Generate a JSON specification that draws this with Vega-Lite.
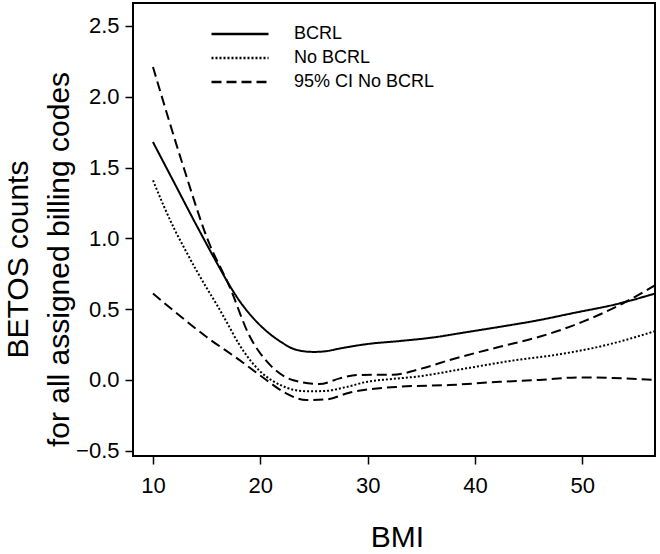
{
  "$schema": "https://vega.github.io/schema/vega-lite/v6.json",
  "width": 522,
  "height": 453,
  "autosize": {"type": "none"},
  "padding": {"left": 133, "top": 3, "right": 5, "bottom": 98},
  "background": "white",
  "config": {
    "font": "Liberation Sans",
    "view": {"stroke": "black", "strokeWidth": 2},
    "axis": {"domain": false, "grid": false, "tickColor": "black", "tickWidth": 1.5, "tickSize": 8, "labelFontSize": 22, "labelColor": "black", "titleFontSize": 30, "titleFontWeight": "normal", "titleColor": "black"}
  },
  "data": {"values": [
    {"curve": "BCRL", "group": "BCRL", "x": 10, "y": 1.68},
    {"curve": "BCRL", "group": "BCRL", "x": 12, "y": 1.39},
    {"curve": "BCRL", "group": "BCRL", "x": 14, "y": 1.10},
    {"curve": "BCRL", "group": "BCRL", "x": 16, "y": 0.82},
    {"curve": "BCRL", "group": "BCRL", "x": 17, "y": 0.685},
    {"curve": "BCRL", "group": "BCRL", "x": 18, "y": 0.565},
    {"curve": "BCRL", "group": "BCRL", "x": 19.3, "y": 0.44},
    {"curve": "BCRL", "group": "BCRL", "x": 20.5, "y": 0.35},
    {"curve": "BCRL", "group": "BCRL", "x": 22, "y": 0.265},
    {"curve": "BCRL", "group": "BCRL", "x": 23, "y": 0.222},
    {"curve": "BCRL", "group": "BCRL", "x": 24, "y": 0.203},
    {"curve": "BCRL", "group": "BCRL", "x": 25, "y": 0.198},
    {"curve": "BCRL", "group": "BCRL", "x": 26, "y": 0.202},
    {"curve": "BCRL", "group": "BCRL", "x": 27.4, "y": 0.222},
    {"curve": "BCRL", "group": "BCRL", "x": 29.9, "y": 0.253},
    {"curve": "BCRL", "group": "BCRL", "x": 33, "y": 0.275},
    {"curve": "BCRL", "group": "BCRL", "x": 36.1, "y": 0.30},
    {"curve": "BCRL", "group": "BCRL", "x": 39, "y": 0.335},
    {"curve": "BCRL", "group": "BCRL", "x": 42.3, "y": 0.375},
    {"curve": "BCRL", "group": "BCRL", "x": 46, "y": 0.423},
    {"curve": "BCRL", "group": "BCRL", "x": 49, "y": 0.47},
    {"curve": "BCRL", "group": "BCRL", "x": 53.45, "y": 0.54},
    {"curve": "BCRL", "group": "BCRL", "x": 56.8, "y": 0.611},

    {"curve": "No BCRL", "group": "No BCRL", "x": 10, "y": 1.41},
    {"curve": "No BCRL", "group": "No BCRL", "x": 11, "y": 1.23},
    {"curve": "No BCRL", "group": "No BCRL", "x": 12, "y": 1.065},
    {"curve": "No BCRL", "group": "No BCRL", "x": 13, "y": 0.92},
    {"curve": "No BCRL", "group": "No BCRL", "x": 14, "y": 0.78},
    {"curve": "No BCRL", "group": "No BCRL", "x": 15, "y": 0.65},
    {"curve": "No BCRL", "group": "No BCRL", "x": 16, "y": 0.525},
    {"curve": "No BCRL", "group": "No BCRL", "x": 17, "y": 0.39},
    {"curve": "No BCRL", "group": "No BCRL", "x": 18, "y": 0.255},
    {"curve": "No BCRL", "group": "No BCRL", "x": 19, "y": 0.145},
    {"curve": "No BCRL", "group": "No BCRL", "x": 20, "y": 0.06},
    {"curve": "No BCRL", "group": "No BCRL", "x": 21, "y": 0.0},
    {"curve": "No BCRL", "group": "No BCRL", "x": 22, "y": -0.04},
    {"curve": "No BCRL", "group": "No BCRL", "x": 23, "y": -0.068},
    {"curve": "No BCRL", "group": "No BCRL", "x": 24.5, "y": -0.08},
    {"curve": "No BCRL", "group": "No BCRL", "x": 26, "y": -0.078},
    {"curve": "No BCRL", "group": "No BCRL", "x": 28, "y": -0.05},
    {"curve": "No BCRL", "group": "No BCRL", "x": 30, "y": -0.012},
    {"curve": "No BCRL", "group": "No BCRL", "x": 32, "y": 0.005},
    {"curve": "No BCRL", "group": "No BCRL", "x": 34.5, "y": 0.023},
    {"curve": "No BCRL", "group": "No BCRL", "x": 39.2, "y": 0.082},
    {"curve": "No BCRL", "group": "No BCRL", "x": 43.8, "y": 0.14},
    {"curve": "No BCRL", "group": "No BCRL", "x": 46.9, "y": 0.17},
    {"curve": "No BCRL", "group": "No BCRL", "x": 52.2, "y": 0.246},
    {"curve": "No BCRL", "group": "No BCRL", "x": 56.8, "y": 0.345},

    {"curve": "CI upper", "group": "95% CI No BCRL", "x": 10, "y": 2.21},
    {"curve": "CI upper", "group": "95% CI No BCRL", "x": 12.79, "y": 1.517},
    {"curve": "CI upper", "group": "95% CI No BCRL", "x": 15.12, "y": 0.987},
    {"curve": "CI upper", "group": "95% CI No BCRL", "x": 17.14, "y": 0.658},
    {"curve": "CI upper", "group": "95% CI No BCRL", "x": 19.0, "y": 0.31},
    {"curve": "CI upper", "group": "95% CI No BCRL", "x": 20.86, "y": 0.11},
    {"curve": "CI upper", "group": "95% CI No BCRL", "x": 23.0, "y": 0.0},
    {"curve": "CI upper", "group": "95% CI No BCRL", "x": 25.5, "y": -0.029},
    {"curve": "CI upper", "group": "95% CI No BCRL", "x": 27.4, "y": 0.011},
    {"curve": "CI upper", "group": "95% CI No BCRL", "x": 29, "y": 0.035},
    {"curve": "CI upper", "group": "95% CI No BCRL", "x": 32.35, "y": 0.037},
    {"curve": "CI upper", "group": "95% CI No BCRL", "x": 35, "y": 0.08},
    {"curve": "CI upper", "group": "95% CI No BCRL", "x": 37.6, "y": 0.14},
    {"curve": "CI upper", "group": "95% CI No BCRL", "x": 42.3, "y": 0.234},
    {"curve": "CI upper", "group": "95% CI No BCRL", "x": 46, "y": 0.305},
    {"curve": "CI upper", "group": "95% CI No BCRL", "x": 50, "y": 0.41},
    {"curve": "CI upper", "group": "95% CI No BCRL", "x": 53.76, "y": 0.54},
    {"curve": "CI upper", "group": "95% CI No BCRL", "x": 56.8, "y": 0.67},

    {"curve": "CI lower", "group": "95% CI No BCRL", "x": 10, "y": 0.61},
    {"curve": "CI lower", "group": "95% CI No BCRL", "x": 11.86, "y": 0.493},
    {"curve": "CI lower", "group": "95% CI No BCRL", "x": 14.97, "y": 0.305},
    {"curve": "CI lower", "group": "95% CI No BCRL", "x": 18.07, "y": 0.14},
    {"curve": "CI lower", "group": "95% CI No BCRL", "x": 20.56, "y": 0.0},
    {"curve": "CI lower", "group": "95% CI No BCRL", "x": 22.4, "y": -0.095},
    {"curve": "CI lower", "group": "95% CI No BCRL", "x": 24.3, "y": -0.142},
    {"curve": "CI lower", "group": "95% CI No BCRL", "x": 26.15, "y": -0.137},
    {"curve": "CI lower", "group": "95% CI No BCRL", "x": 28.3, "y": -0.09},
    {"curve": "CI lower", "group": "95% CI No BCRL", "x": 32.96, "y": -0.048},
    {"curve": "CI lower", "group": "95% CI No BCRL", "x": 37.6, "y": -0.036},
    {"curve": "CI lower", "group": "95% CI No BCRL", "x": 42.3, "y": -0.013},
    {"curve": "CI lower", "group": "95% CI No BCRL", "x": 46, "y": 0.0},
    {"curve": "CI lower", "group": "95% CI No BCRL", "x": 49.7, "y": 0.018},
    {"curve": "CI lower", "group": "95% CI No BCRL", "x": 53.76, "y": 0.011},
    {"curve": "CI lower", "group": "95% CI No BCRL", "x": 56.8, "y": 0.0}
  ]},
  "mark": {"type": "line", "interpolate": "monotone", "clip": true, "color": "black", "strokeWidth": 2},
  "encoding": {
    "x": {"field": "x", "type": "quantitative", "scale": {"domain": [8.14, 56.77], "nice": false, "zero": false},
      "axis": {"values": [10, 20, 30, 40, 50], "title": "BMI", "labelPadding": 11, "titleX": 264, "titleY": 90, "titleBaseline": "alphabetic"}},
    "y": {"field": "y", "type": "quantitative", "scale": {"domain": [-0.537, 2.662], "nice": false, "zero": false},
      "axis": {"values": [-0.5, 0, 0.5, 1, 1.5, 2, 2.5], "format": ".1f", "labelPadding": 6,
        "title": ["BETOS counts", "for all assigned billing codes"], "titleLineHeight": 41, "titleBaseline": "middle", "titleX": -115, "titleY": 256}},
    "detail": {"field": "curve"},
    "strokeDash": {"field": "group", "type": "nominal",
      "scale": {"domain": ["BCRL", "No BCRL", "95% CI No BCRL"], "range": [[1, 0], [2, 2], [10, 5]]},
      "legend": {"title": null, "orient": "none", "legendX": 77, "legendY": 19, "symbolType": "stroke", "symbolSize": 3249, "symbolStrokeWidth": 2.5, "symbolStrokeColor": "black", "labelFontSize": 18, "labelColor": "black", "labelOffset": 24, "padding": 0, "rowPadding": 0, "clipHeight": 24}}
  }
}
